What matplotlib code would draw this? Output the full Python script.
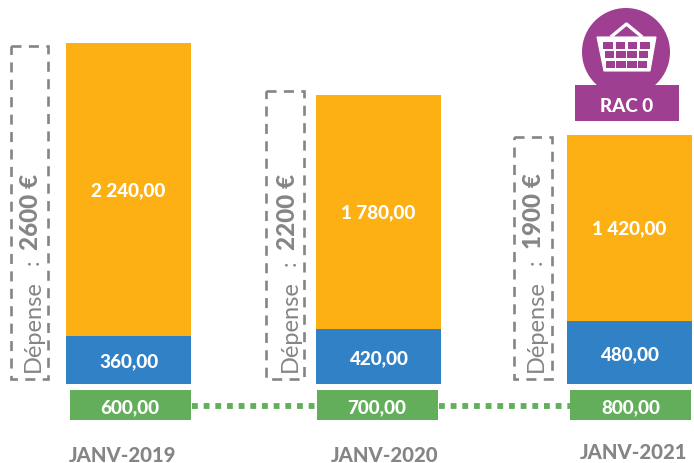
import matplotlib
matplotlib.use("Agg")
import matplotlib.pyplot as plt
from matplotlib.patches import Rectangle, Circle, Polygon

plt.rcParams['font.family'] = ['Lato', 'DejaVu Sans']

periods = ["JANV-2019", "JANV-2020", "JANV-2021"]
blue_values = [360, 420, 480]
orange_values = [2240, 1780, 1420]
green_values = [600, 700, 800]
totals = [2600, 2200, 1900]
orange_labels = ["2 240,00", "1 780,00", "1 420,00"]
blue_labels = ["360,00", "420,00", "480,00"]
green_labels = ["600,00", "700,00", "800,00"]

ORANGE, BLUE, GREEN, PURPLE, GREY = "#FCB014", "#3181C6", "#63AE5B", "#9E3F91", "#858585"
HEAVY = 900

fig = plt.figure(figsize=(6.94, 4.64), dpi=100, facecolor="white")

# data axes: x in pixels, y in euros
PX = 0.131
ax = fig.add_axes([0, 0, 1, 1])
ax.set_xlim(0, 694)
ax.set_ylim(-79.4 / PX, 384.6 / PX)
ax.axis("off")

bar_lefts = [66, 316, 567]
bar_w = 125
ax.bar(bar_lefts, blue_values, width=bar_w, align="edge", color=BLUE)
ax.bar(bar_lefts, orange_values, width=bar_w, bottom=blue_values, align="edge", color=ORANGE)
for x, b, o, bl, ol in zip(bar_lefts, blue_values, orange_values, blue_labels, orange_labels):
    ax.text(x + bar_w / 2, b / 2 - 9, bl, color="white", fontsize=13.6, weight=HEAVY, ha="center", va="center")
    ax.text(x + bar_w / 2, b + o / 2, ol, color="white", fontsize=13.6, weight=HEAVY, ha="center", va="center")

# overlay axes in pixel coordinates for annotations
ov = fig.add_axes([0, 0, 1, 1], facecolor="none")
ov.set_xlim(0, 694)
ov.set_ylim(464, 0)
ov.axis("off")

# connecting dotted lines
for x0, x1 in [(192, 317), (439, 570)]:
    ov.plot([x0, x1], [407, 407], color=GREEN, lw=4.2, ls=(0, (1.0, 1.0)), dash_capstyle="butt")

# green boxes
for x in [70, 317, 570]:
    ov.add_patch(Rectangle((x, 391), 121, 30, color=GREEN, lw=0, zorder=3))
for cx, lab in zip([130, 377, 631], green_labels):
    ov.text(cx, 407.5, lab, color="white", fontsize=13.6, weight=HEAVY, ha="center", va="center", zorder=4)

# period labels
for cx, p, y in zip([123, 385, 634], periods, [456, 456, 453]):
    ov.text(cx, y, p, color=GREY, fontsize=14.6, weight=HEAVY, ha="center", va="center")

# dashed boxes
boxes = [(11, 47, 37, 333), (266, 92, 38, 288), (514, 138, 38, 242)]
for x, y, w, h in boxes:
    ov.add_patch(Rectangle((x, y), w, h, fill=False, ec=GREY, lw=1.9, ls=(0, (3.8, 2.8))))

# rotated texts
dep_pos = [(33, 372), (290, 372), (536, 372)]
colon_y = [262, 263, 262]
tot_pos = [(31, 250), (288, 250), (534, 249)]
for (dx, dy), cy, (tx, ty), t in zip(dep_pos, colon_y, tot_pos, totals):
    ov.text(dx, dy, "Dépense", color=GREY, fontsize=17, rotation=90, ha="left", va="center", rotation_mode="anchor")
    ov.text(dx, cy, ":", color=GREY, fontsize=16, rotation=90, ha="center", va="center", rotation_mode="anchor")
    ov.text(tx, ty, f"{t} €", color=GREY, fontsize=17.5, weight=HEAVY, rotation=90, ha="left", va="center", rotation_mode="anchor")

# RAC badge
ov.add_patch(Circle((626, 53), 44, color=PURPLE, lw=0))
ov.add_patch(Rectangle((575, 86), 104, 36, color=PURPLE, lw=0))
ov.text(627, 106, "RAC 0", color="white", fontsize=13.6, weight=HEAVY, ha="center", va="center")

# basket glyph
ov.add_patch(Polygon([(597, 38), (656, 38), (650, 72), (604, 72)], closed=True, fc="white", ec="white", lw=0.8))
ov.plot([612, 626.5, 641], [37, 25, 37], color="white", lw=2.4, solid_joinstyle="round")
for col in range(4):
    for row in range(3):
        shift = {0: 1.2, 1: 0.4, 2: -0.4, 3: -1.2}[col] * row
        ov.add_patch(Rectangle((603.5 + col * 12.2 + shift, 42.5 + row * 9.7), 9.6, 7, color=PURPLE, lw=0))

fig.savefig("out.png", dpi=100, facecolor="white")
